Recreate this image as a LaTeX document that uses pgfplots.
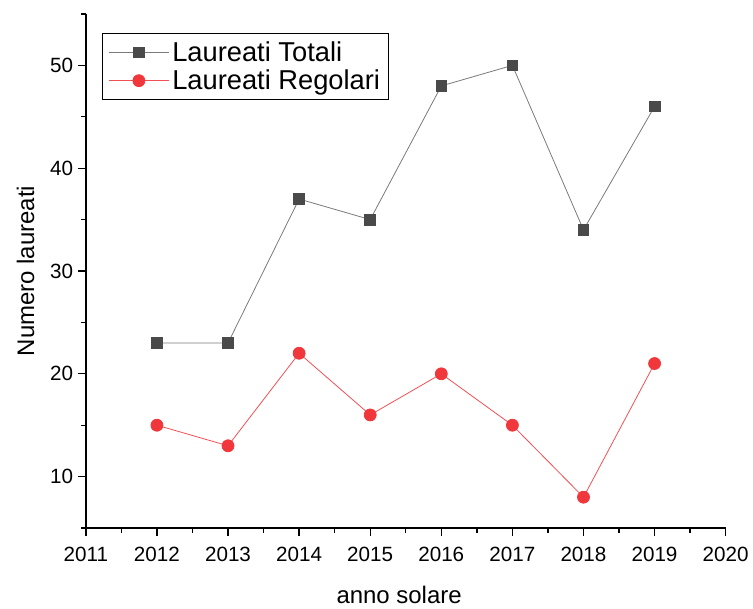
\documentclass[border=0pt]{standalone}
\usepackage{pgfplots}
\pgfplotsset{compat=1.18}
\usepackage{fontspec}
\setmainfont{Liberation Sans}
\definecolor{dgray}{HTML}{4A4A4A}
\definecolor{lgray}{HTML}{7A7A7A}
\definecolor{ored}{HTML}{F0383C}
\definecolor{lred}{HTML}{F05055}
\begin{document}
\begin{tikzpicture}
\begin{axis}[
  scale only axis,
  width=480.75pt, height=386.25pt,
  xmin=2011, xmax=2020, ymin=5, ymax=55,
  axis x line=bottom, axis y line=left,
  axis line style={-, line width=1pt},
  xtick={2011,...,2020},
  minor xtick={2011.5,2012.5,...,2019.5},
  ytick={10,20,30,40,50},
  minor ytick={5,15,25,35,45,55},
  tick align=outside,
  major tick length=6pt, minor tick length=3.5pt,
  tick style={line width=1pt, black},
  x tick label style={/pgf/number format/1000 sep={}, yshift=-4.5pt},
  y tick label style={xshift=0pt},
  /pgf/number format/assume math mode=true,
  tick label style={font=\fontsize{15.5}{18}\selectfont},
  xlabel={anno solare}, ylabel={Numero laureati},
  label style={font=\fontsize{18}{21}\selectfont},
  xlabel style={yshift=-12pt, xshift=-5pt},
  ylabel style={yshift=5pt},
  legend style={at={(0.026,0.963)}, anchor=north west, draw=black, line width=0.6pt,
    font=\fontsize{20.5}{23}\selectfont, inner sep=4pt, row sep=1pt},
  legend image code/.code={
    \draw[mark repeat=2,mark phase=2] plot coordinates {(0cm,0cm) (0.8cm,0cm) (1.6cm,0cm)};},
  legend cell align=left,
  clip=false,
]
\addplot[color=lgray, line width=0.6pt, mark=square*, mark size=4pt,
  mark options={fill=dgray, draw=dgray, solid}]
  coordinates {(2012,23) (2013,23) (2014,37) (2015,35) (2016,48) (2017,50) (2018,34) (2019,46)};
\addlegendentry{Laureati Totali}
\addplot[color=lred, line width=0.6pt, mark=*, mark size=4.5pt,
  mark options={fill=ored, draw=ored, solid}]
  coordinates {(2012,15) (2013,13) (2014,22) (2015,16) (2016,20) (2017,15) (2018,8) (2019,21)};
\addlegendentry{Laureati Regolari}
\path (rel axis cs:0,1) ++(-64.5pt,10.5pt) coordinate (bbtl);
\path (rel axis cs:1,0) ++(19.5pt,-59.25pt) coordinate (bbbr);
\end{axis}
\useasboundingbox (bbtl) rectangle (bbbr);
\end{tikzpicture}
\end{document}
